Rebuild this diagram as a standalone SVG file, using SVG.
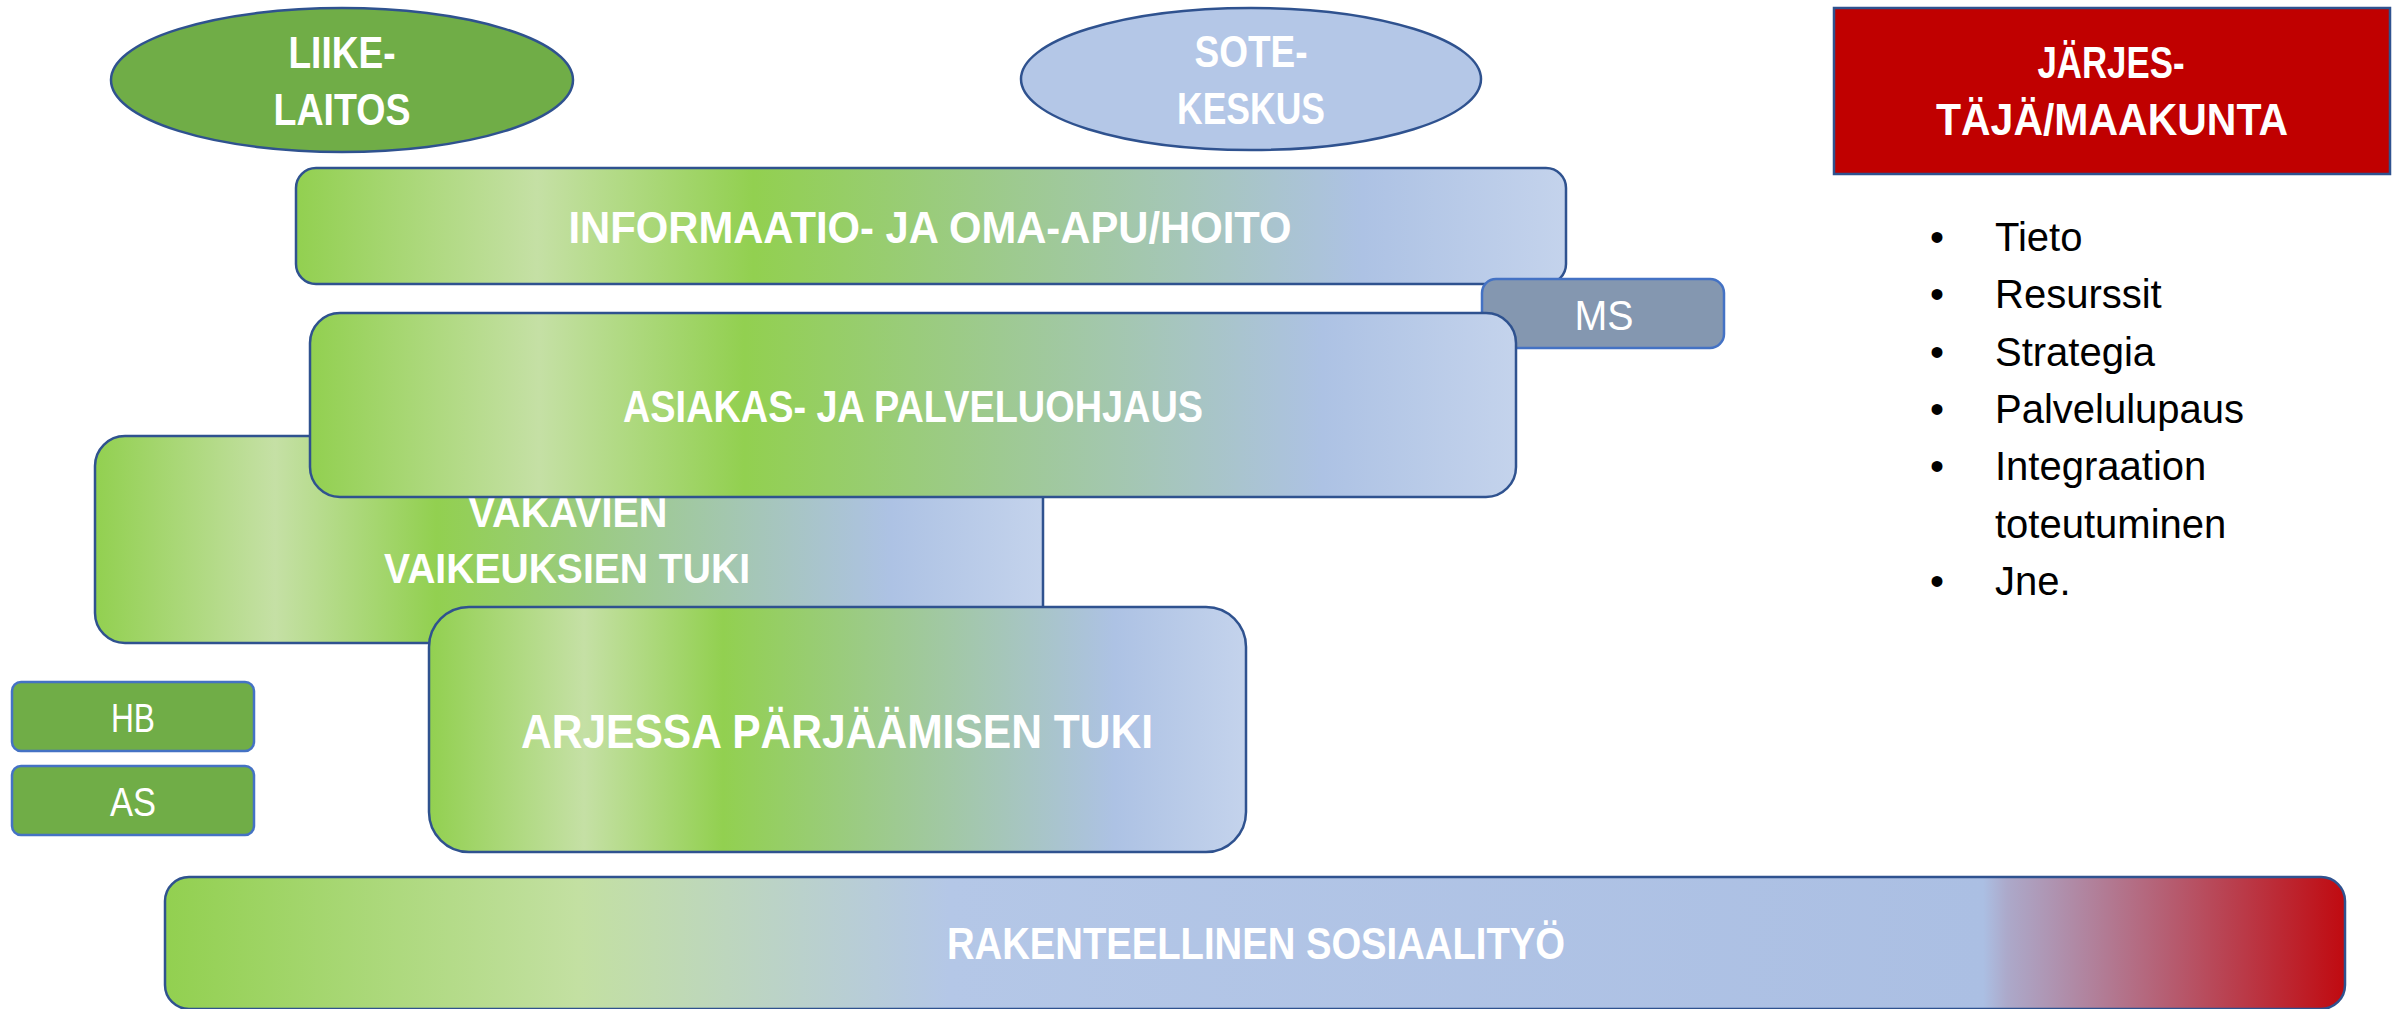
<svg xmlns="http://www.w3.org/2000/svg" width="2397" height="1009" viewBox="0 0 2397 1009">
<defs>
<linearGradient id="gMain" x1="0" y1="0" x2="1" y2="0">
<stop offset="0" stop-color="#92d050"/>
<stop offset="0.19" stop-color="#c5e0a5"/>
<stop offset="0.36" stop-color="#92d050"/>
<stop offset="0.84" stop-color="#adc2e4"/>
<stop offset="1" stop-color="#c4d3ec"/>
</linearGradient>
<linearGradient id="gBase" x1="0" y1="0" x2="1" y2="0">
<stop offset="0" stop-color="#92d050"/>
<stop offset="0.19" stop-color="#c3e0a2"/>
<stop offset="0.36" stop-color="#b4c7e7"/>
<stop offset="0.834" stop-color="#abbfe3"/>
<stop offset="0.845" stop-color="#aca9ca"/>
<stop offset="1" stop-color="#c00a10"/>
</linearGradient>
<style>
.box{stroke:#2f528f;stroke-width:2.5}
.small{fill:#70ad47;stroke:#4472c4;stroke-width:2.5}
.tb{font-family:"Liberation Sans",Arial,sans-serif;font-weight:bold;fill:#ffffff;text-anchor:middle}
.tr{font-family:"Liberation Sans",Arial,sans-serif;fill:#ffffff;text-anchor:middle}
.bl{font-family:"Liberation Sans",Arial,sans-serif;fill:#000000;font-size:40px}
</style>
</defs>

<g id="liikelaitos">
<ellipse cx="342" cy="80" rx="231" ry="72" fill="#70ad47" class="box"/>
<text class="tb" x="342" y="68" font-size="44" textLength="107" lengthAdjust="spacingAndGlyphs">LIIKE-</text>
<text class="tb" x="342" y="125" font-size="44" textLength="137" lengthAdjust="spacingAndGlyphs">LAITOS</text>
</g>

<g id="sotekeskus">
<ellipse cx="1251" cy="79" rx="230" ry="71" fill="#b4c7e7" class="box"/>
<text class="tb" x="1251" y="67" font-size="44" textLength="113" lengthAdjust="spacingAndGlyphs">SOTE-</text>
<text class="tb" x="1251" y="124" font-size="44" textLength="148" lengthAdjust="spacingAndGlyphs">KESKUS</text>
</g>

<g id="informaatio">
<rect x="296" y="168" width="1270" height="116" rx="20" fill="url(#gMain)" class="box"/>
<text class="tb" x="930" y="243" font-size="44" textLength="723" lengthAdjust="spacingAndGlyphs">INFORMAATIO- JA OMA-APU/HOITO</text>
</g>

<g id="ms">
<rect x="1482" y="279" width="242" height="69" rx="14" fill="#8497b0" stroke="#4472c4" stroke-width="2.5"/>
<text class="tr" x="1604" y="330" font-size="43" textLength="59" lengthAdjust="spacingAndGlyphs">MS</text>
</g>

<g id="vakavien">
<rect x="95" y="436" width="948" height="207" rx="30" fill="url(#gMain)" class="box"/>
<text class="tb" x="568" y="527" font-size="43" textLength="199" lengthAdjust="spacingAndGlyphs">VAKAVIEN</text>
<text class="tb" x="567" y="583" font-size="43" textLength="366" lengthAdjust="spacingAndGlyphs">VAIKEUKSIEN TUKI</text>
</g>

<g id="asiakas">
<rect x="310" y="313" width="1206" height="184" rx="30" fill="url(#gMain)" class="box"/>
<text class="tb" x="913" y="422" font-size="44" textLength="580" lengthAdjust="spacingAndGlyphs">ASIAKAS- JA PALVELUOHJAUS</text>
</g>

<g id="arjessa">
<rect x="429" y="607" width="817" height="245" rx="40" fill="url(#gMain)" class="box"/>
<text class="tb" x="837" y="748" font-size="48" textLength="632" lengthAdjust="spacingAndGlyphs">ARJESSA PÄRJÄÄMISEN TUKI</text>
</g>

<g id="hb">
<rect x="12" y="682" width="242" height="69" rx="9" class="small"/>
<text class="tr" x="133" y="732" font-size="41" textLength="44" lengthAdjust="spacingAndGlyphs">HB</text>
</g>

<g id="as">
<rect x="12" y="766" width="242" height="69" rx="9" class="small"/>
<text class="tr" x="133" y="816" font-size="41" textLength="46" lengthAdjust="spacingAndGlyphs">AS</text>
</g>

<g id="rakenteellinen">
<rect x="165" y="877" width="2180" height="132" rx="24" fill="url(#gBase)" class="box"/>
<text class="tb" x="1256" y="959" font-size="44" textLength="618" lengthAdjust="spacingAndGlyphs">RAKENTEELLINEN SOSIAALITYÖ</text>
</g>

<g id="jarjestaja">
<rect x="1834" y="8" width="556" height="166" fill="#c00000" class="box"/>
<text class="tb" x="2111" y="78" font-size="44" textLength="147" lengthAdjust="spacingAndGlyphs">JÄRJES-</text>
<text class="tb" x="2112" y="135" font-size="44" textLength="352" lengthAdjust="spacingAndGlyphs">TÄJÄ/MAAKUNTA</text>
</g>

<g id="bullets">
<text class="bl" x="1930" y="251">•</text><text class="bl" x="1995" y="251">Tieto</text>
<text class="bl" x="1930" y="308">•</text><text class="bl" x="1995" y="308">Resurssit</text>
<text class="bl" x="1930" y="366">•</text><text class="bl" x="1995" y="366">Strategia</text>
<text class="bl" x="1930" y="423">•</text><text class="bl" x="1995" y="423">Palvelulupaus</text>
<text class="bl" x="1930" y="480">•</text><text class="bl" x="1995" y="480">Integraation</text>
<text class="bl" x="1995" y="538">toteutuminen</text>
<text class="bl" x="1930" y="595">•</text><text class="bl" x="1995" y="595">Jne.</text>
</g>

<g id="connectors"></g>
</svg>
